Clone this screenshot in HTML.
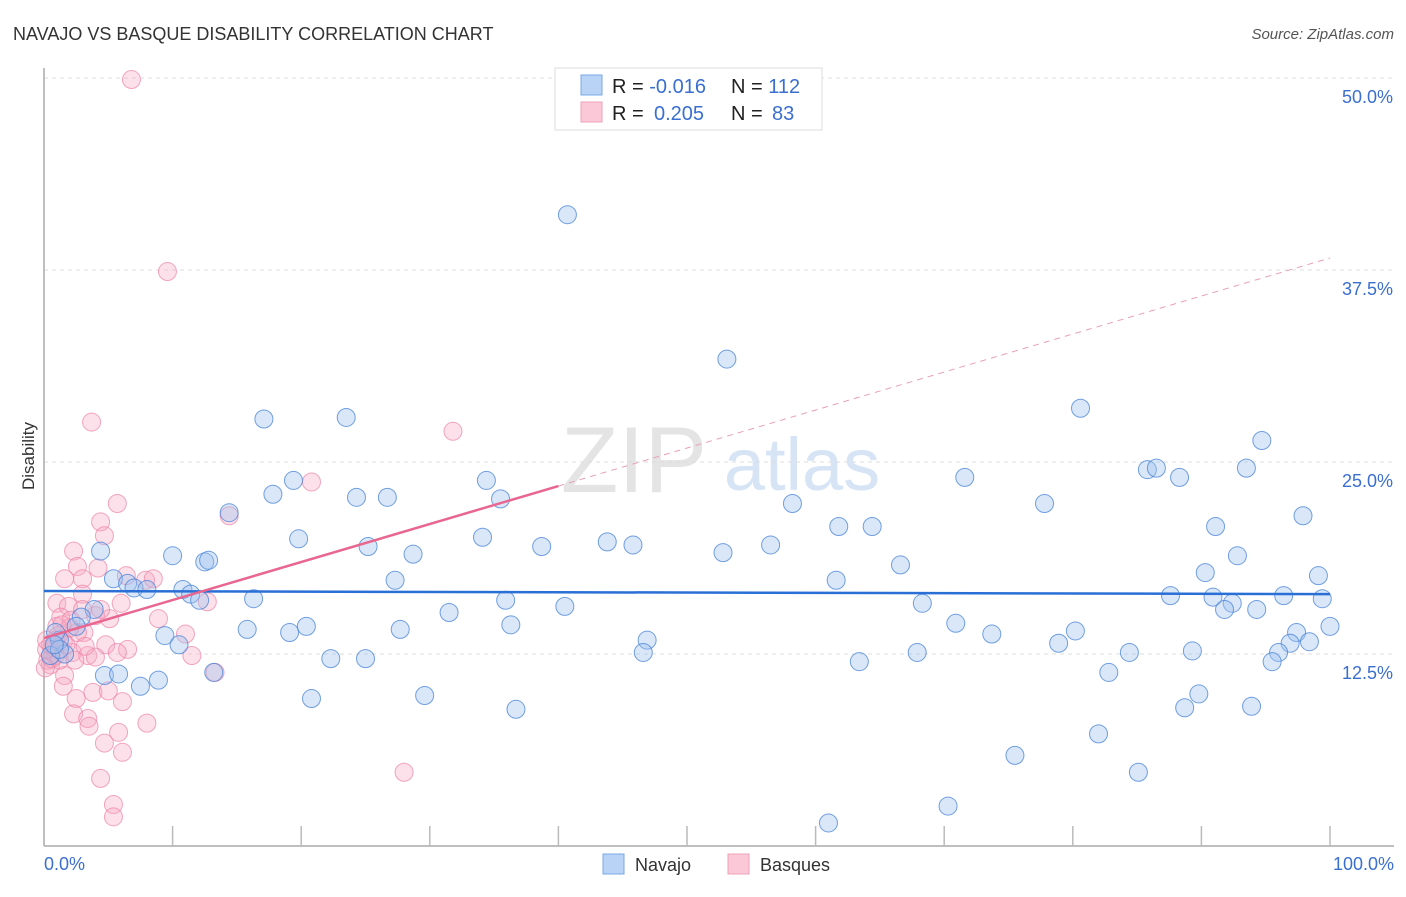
<!DOCTYPE html>
<html><head><meta charset="utf-8"><style>
body{margin:0;background:#fff;font-family:"Liberation Sans",sans-serif}
svg text{font-family:"Liberation Sans",sans-serif}
</style></head><body>
<svg id="chart" width="1406" height="892" viewBox="0 0 1406 892" xmlns="http://www.w3.org/2000/svg">
<text x="13" y="40" font-size="18" fill="#333">NAVAJO VS BASQUE DISABILITY CORRELATION CHART</text>
<text x="1394" y="39" font-size="15" fill="#555" text-anchor="end" font-style="italic">Source: ZipAtlas.com</text>
<g>
<text x="634" y="492" font-size="94" font-family="Liberation Serif,serif" fill="#e4e4e4" text-anchor="middle">ZIP</text>
<text x="802" y="490" font-size="74" fill="#d6e4f6" text-anchor="middle">atlas</text>
</g>
<g id="grid"></g>
<g id="axes"></g>
<g id="pts"></g>
<g id="trends"></g>
<text transform="translate(34,456) rotate(-90)" font-size="17" fill="#333" text-anchor="middle">Disability</text>
<text x="44" y="870" font-size="18" fill="#3a6fd0">0.0%</text>
<text x="1394" y="870" font-size="18" fill="#3a6fd0" text-anchor="end">100.0%</text>
<g>
<rect x="555" y="68" width="267" height="62" fill="#fff" stroke="#ddd"/>
<rect x="581" y="75" width="21" height="20" fill="#b8d3f5" stroke="#7aa7e4"/>
<rect x="581" y="102" width="21" height="20" fill="#fbc8d7" stroke="#f0a0ba"/>
<text x="612" y="93" font-size="20" fill="#222">R = <tspan fill="#3a6fd0">-0.016</tspan><tspan x="731">N = </tspan><tspan fill="#3a6fd0">112</tspan></text>
<text x="612" y="120" font-size="20" fill="#222">R = <tspan fill="#3a6fd0" x="654">0.205</tspan><tspan x="731">N = </tspan><tspan fill="#3a6fd0" x="772">83</tspan></text>
</g>
<g>
<rect x="603" y="854" width="21" height="20" fill="#b8d3f5" stroke="#7aa7e4"/>
<text x="635" y="871" font-size="18" fill="#333">Navajo</text>
<rect x="728" y="854" width="21" height="20" fill="#fbc8d7" stroke="#f0a0ba"/>
<text x="760" y="871" font-size="18" fill="#333">Basques</text>
</g>
</svg>
<script>
const yTicks=[12.5,25,37.5,50];
const yTickLabels=["12.5%","25.0%","37.5%","50.0%"];
const xTicks=[10,20,30,40,50,60,70,80,90,100];
const navajoX=[40.7,53.1,17.1,23.5,80.6,94.7,34.4,71.6,85.8,86.5,88.3,93.5,17.8,19.4,24.3,26.7,35.5,14.4,58.2,77.8,97.9,19.8,25.2,34.1,38.7,43.8,45.8,61.8,64.4,91.1,4.4,10.0,12.5,12.8,28.7,52.8,56.5,66.6,92.8,5.4,6.5,7.0,8.0,10.8,11.4,12.1,16.3,27.3,35.9,40.5,61.6,90.3,87.6,90.9,92.4,91.8,96.4,99.1,99.4,94.3,3.9,2.9,2.5,31.5,68.3,15.8,19.1,20.4,27.7,36.3,70.9,73.7,80.2,9.4,10.5,46.9,46.6,78.9,97.4,98.4,100.0,96.9,96.0,95.5,84.4,89.3,67.9,22.3,25.0,63.4,4.7,5.8,13.2,7.5,8.9,20.8,29.6,36.7,82.8,89.8,88.7,93.9,82.0,75.5,85.1,70.3,61.0,1.2,0.9,1.6,0.5,1.2,0.8];
const navajoY=[41.1,31.7,27.8,27.9,28.5,26.4,23.8,24.0,24.5,24.6,24.0,24.6,22.9,23.8,22.7,22.7,22.6,21.7,22.3,22.3,21.5,20.0,19.5,20.1,19.5,19.8,19.6,20.8,20.8,20.8,19.2,18.9,18.5,18.6,19.0,19.1,19.6,18.3,18.9,17.4,17.1,16.8,16.7,16.7,16.4,16.0,16.1,17.3,16.0,15.6,17.3,17.8,16.3,16.2,15.8,15.4,16.3,17.6,16.1,15.4,15.4,14.9,14.3,15.2,15.8,14.1,13.9,14.3,14.1,14.4,14.5,13.8,14.0,13.7,13.1,13.4,12.6,13.2,13.9,13.3,14.3,13.2,12.6,12.0,12.6,12.7,12.6,12.2,12.2,12.0,11.1,11.2,11.3,10.4,10.8,9.6,9.8,8.9,11.3,9.9,9.0,9.1,7.3,5.9,4.8,2.6,1.5,13.4,13.9,12.5,12.4,12.8,13.1];
const basqueX=[6.8,9.6,3.7,31.8,20.8,5.7,14.4,4.4,4.7,2.3,2.6,1.6,3.0,4.2,6.4,7.9,8.5,3.0,1.0,1.9,6.0,12.7,1.3,2.1,5.1,8.9,4.0,11.0,3.1,4.8,6.5,1.0,2.6,1.5,0.8,2.2,3.4,4.0,5.7,11.5,0.5,1.6,1.5,3.8,5.0,2.5,6.1,2.3,3.4,3.5,8.0,4.7,5.8,6.1,4.4,28.0,5.4,5.4,0.3,0.6,0.9,0.2,2.0,0.9,1.2,0.1,0.5,1.1,1.7,2.4,3.2,0.2,1.4,13.3,3.0,4.4];
const basqueY=[49.9,37.4,27.6,27.0,23.7,22.3,21.5,21.1,20.2,19.2,18.2,17.4,17.4,18.1,17.6,17.3,17.4,16.4,15.8,15.6,15.8,15.9,14.9,14.7,14.8,14.8,15.0,13.8,13.9,13.1,12.8,14.3,13.9,13.3,12.9,12.6,12.4,12.3,12.6,12.4,11.8,11.1,10.4,10.0,10.1,9.6,9.4,8.6,8.3,7.8,8.0,6.7,7.4,6.1,4.4,4.8,2.7,1.9,12.1,12.2,12.4,12.8,14.2,13.4,12.1,11.6,13.1,13.7,13.1,12.1,13.0,13.4,14.4,11.3,15.4,15.4];
const navajoTrend=[16.6,16.4];
const basqueTrend=[13.54,38.28];
const basqueSolidEnd=40;
const X=v=>44+v*12.86, Y=v=>846-v*15.36;
const NS="http://www.w3.org/2000/svg";
function mk(t,a,p){const e=document.createElementNS(NS,t);for(const k in a)e.setAttribute(k,a[k]);p.appendChild(e);return e;}
const grid=document.getElementById('grid'),axes=document.getElementById('axes'),pts=document.getElementById('pts'),tr=document.getElementById('trends');
yTicks.forEach((t,i)=>{
 const l=mk('line',{x1:44,x2:1394,y1:Y(t),y2:Y(t),stroke:'#ddd','stroke-dasharray':'4,4'},grid);
 
 
 const tx=mk('text',{x:1393,y:Y(t)+25,'font-size':18,fill:'#3a6fd0','text-anchor':'end'},grid);
 tx.textContent=yTickLabels[i];
 
 
});
let a=mk('line',{x1:44,x2:44,y1:68,y2:846,stroke:'#aaa','stroke-width':1.5},axes);


a=mk('line',{x1:44,x2:1394,y1:846,y2:846,stroke:'#aaa','stroke-width':1.5},axes);


xTicks.forEach(t=>{
 const l=mk('line',{x1:X(t),x2:X(t),y1:826,y2:846,stroke:'#bbb','stroke-width':1.5},axes);
 
 
});
basqueX.forEach((x,i)=>{
 const c=mk('circle',{cx:X(x),cy:Y(basqueY[i]),r:9,fill:'rgba(246,170,195,0.35)',stroke:'rgba(236,130,165,0.7)','stroke-width':1},pts);
 
 
});
navajoX.forEach((x,i)=>{
 const c=mk('circle',{cx:X(x),cy:Y(navajoY[i]),r:9,fill:'rgba(160,196,240,0.4)',stroke:'rgba(70,130,215,0.75)','stroke-width':1},pts);
 
 
});
let t=mk('line',{x1:X(0),x2:X(100),y1:Y(navajoTrend[0]),y2:Y(navajoTrend[1]),stroke:'#2a6fd6','stroke-width':2.5},tr);


const by=v=>basqueTrend[0]+(basqueTrend[1]-basqueTrend[0])*v/100;
t=mk('line',{x1:X(0),x2:X(basqueSolidEnd),y1:Y(by(0)),y2:Y(by(basqueSolidEnd)),stroke:'#e8668f','stroke-width':2.5},tr);


t=mk('line',{x1:X(basqueSolidEnd),x2:X(100),y1:Y(by(basqueSolidEnd)),y2:Y(by(100)),stroke:'#e8a0b8','stroke-width':1,'stroke-dasharray':'6,5'},tr);


</script>
</body></html>
